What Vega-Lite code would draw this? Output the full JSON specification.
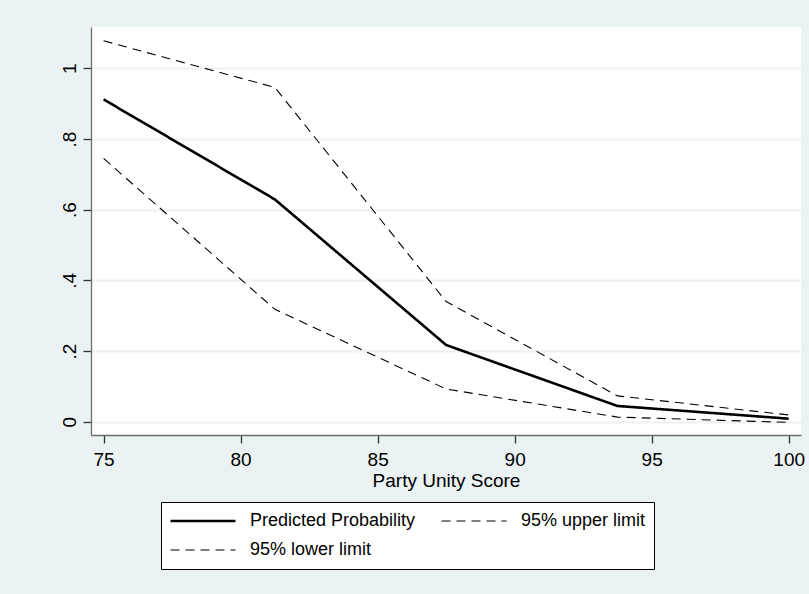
{
  "$schema": "https://vega.github.io/schema/vega-lite/v6.json",
  "autosize": {"type": "none"},
  "padding": {"left": 91, "top": 27, "right": 8, "bottom": 159},
  "width": 710,
  "height": 408,
  "background": "#EAF2F3",
  "config": {
    "font": "Liberation Sans",
    "view": {"stroke": null, "fill": "white"},
    "axis": {"labelFont": "Liberation Sans", "titleFont": "Liberation Sans", "labelColor": "black", "titleColor": "black", "titleFontWeight": "normal"},
    "legend": {
      "title": null,
      "orient": "none",
      "legendX": 70,
      "legendY": 475,
      "columns": 2,
      "strokeColor": "black",
      "fillColor": "white",
      "padding": 8,
      "symbolType": "stroke",
      "symbolSize": 4225,
      "symbolStrokeColor": "black",
      "labelFontSize": 18,
      "labelFont": "Liberation Sans",
      "labelColor": "black",
      "labelOffset": 13,
      "clipHeight": 22,
      "rowPadding": 7,
      "columnPadding": 24,
      "labelLimit": 400
    }
  },
  "data": {
    "values": [
      {"x": 75, "y": 0.912, "series": "Predicted Probability"},
      {"x": 81.25, "y": 0.629, "series": "Predicted Probability"},
      {"x": 87.5, "y": 0.217, "series": "Predicted Probability"},
      {"x": 93.75, "y": 0.0445, "series": "Predicted Probability"},
      {"x": 100, "y": 0.0085, "series": "Predicted Probability"},
      {"x": 75, "y": 1.078, "series": "95% upper limit"},
      {"x": 81.25, "y": 0.946, "series": "95% upper limit"},
      {"x": 87.5, "y": 0.340, "series": "95% upper limit"},
      {"x": 93.75, "y": 0.073, "series": "95% upper limit"},
      {"x": 100, "y": 0.019, "series": "95% upper limit"},
      {"x": 75, "y": 0.745, "series": "95% lower limit"},
      {"x": 81.25, "y": 0.318, "series": "95% lower limit"},
      {"x": 87.5, "y": 0.0925, "series": "95% lower limit"},
      {"x": 93.75, "y": 0.013, "series": "95% lower limit"},
      {"x": 100, "y": -0.002, "series": "95% lower limit"}
    ]
  },
  "mark": {"type": "line", "color": "black", "strokeJoin": "miter"},
  "encoding": {
    "x": {
      "field": "x", "type": "quantitative",
      "scale": {"domain": [74.54, 100.45], "nice": false, "zero": false},
      "axis": {
        "values": [75, 80, 85, 90, 95, 100],
        "title": "Party Unity Score",
        "titleFontSize": 19,
        "titlePadding": 2,
        "labelFontSize": 19,
        "labelPadding": 7,
        "tickSize": 8,
        "tickWidth": 1.3,
        "tickColor": "#333333",
        "domainColor": "#6b6b6b",
        "domainWidth": 1.3,
        "grid": false
      }
    },
    "y": {
      "field": "y", "type": "quantitative",
      "scale": {"domain": [-0.0377, 1.117], "nice": false, "zero": false},
      "axis": {
        "values": [0, 0.2, 0.4, 0.6, 0.8, 1],
        "labelExpr": "datum.value == 0 ? '0' : datum.value == 1 ? '1' : replace(format(datum.value, '.1f'), '0.', '.')",
        "title": null,
        "labelFontSize": 19,
        "labelAngle": -90,
        "labelAlign": "center",
        "labelBaseline": "alphabetic",
        "labelPadding": 8,
        "tickSize": 8,
        "tickWidth": 1.3,
        "tickColor": "#333333",
        "domainColor": "#6b6b6b",
        "domainWidth": 1.3,
        "grid": true,
        "gridColor": "#EAF2F3",
        "gridWidth": 2
      }
    },
    "strokeDash": {
      "field": "series", "type": "nominal",
      "scale": {"type": "ordinal", "domain": ["Predicted Probability", "95% lower limit", "95% upper limit"], "range": [[1, 0], [9, 6], [9, 6]]}
    },
    "strokeWidth": {
      "field": "series", "type": "nominal",
      "scale": {"type": "ordinal", "domain": ["Predicted Probability", "95% lower limit", "95% upper limit"], "range": [2.6, 1.1, 1.1]}
    }
  }
}
